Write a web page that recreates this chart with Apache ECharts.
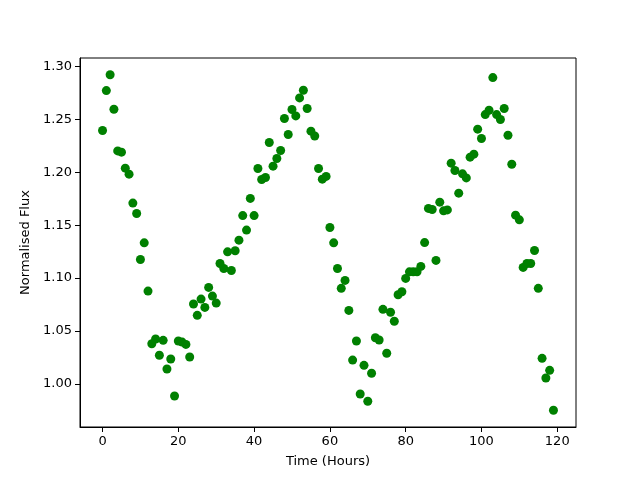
<!DOCTYPE html>
<html>
<head>
<meta charset="utf-8">
<script src="https://cdn.jsdelivr.net/npm/echarts@6/dist/echarts.min.js"></script>
<style>
  html, body { margin: 0; padding: 0; background: #fff; }
  #chart { width: 640px; height: 480px; }
</style>
</head>
<body>
<div id="chart"></div>
<script>
  // hours 0..119, one reading per hour
  const hours = Array.from({ length: 120 }, (_, i) => i);
  const flux = [
    1.2393, 1.2770, 1.2920, 1.2594, 1.2201, 1.2189, 1.2038, 1.1981, 1.1708, 1.1610,
    1.1176, 1.1333, 1.0877, 1.0380, 1.0425, 1.0271, 1.0412, 1.0142, 1.0236, 0.9887,
    1.0406, 1.0396, 1.0374, 1.0255, 1.0755, 1.0648, 1.0802, 1.0723, 1.0912, 1.0830,
    1.0764, 1.1138, 1.1091, 1.1248, 1.1072, 1.1258, 1.1358, 1.1590, 1.1453, 1.1752,
    1.1590, 1.2035, 1.1931, 1.1950, 1.2280, 1.2057, 1.2129, 1.2205, 1.2507, 1.2356,
    1.2592, 1.2531, 1.2701, 1.2774, 1.2601, 1.2387, 1.2342, 1.2035, 1.1934, 1.1960,
    1.1478, 1.1333, 1.1091, 1.0903, 1.0978, 1.0695, 1.0226, 1.0406, 0.9906, 1.0176,
    0.9837, 1.0101, 1.0437, 1.0415, 1.0705, 1.0290, 1.0677, 1.0592, 1.0843, 1.0871,
    1.0997, 1.1059, 1.1059, 1.1059, 1.1110, 1.1335, 1.1658, 1.1648, 1.1167, 1.1717,
    1.1635, 1.1644, 1.2085, 1.2016, 1.1802, 1.1984, 1.1946, 1.2142, 1.2170, 1.2406,
    1.2318, 1.2544, 1.2585, 1.2893, 1.2544, 1.2497, 1.2601, 1.2349, 1.2075, 1.1594,
    1.1550, 1.1101, 1.1138, 1.1138, 1.1261, 1.0903, 1.0242, 1.0057, 1.0129, 0.9752
  ];
  const xTicks = [0, 20, 40, 60, 80, 100, 120];
  const yTicks = [1.00, 1.05, 1.10, 1.15, 1.20, 1.25, 1.30];

  const chart = echarts.init(document.getElementById('chart'));
  const font = 'DejaVu Sans';
  const option = {
    animation: false,
    backgroundColor: '#fff',
    grid: {
      left: 80, right: 64, top: 58, bottom: 53,
      show: true, borderColor: '#000', borderWidth: 1, backgroundColor: 'transparent'
    },
    xAxis: {
      type: 'value',
      min: -5.95, max: 124.95,
      name: 'Time (Hours)',
      nameLocation: 'middle',
      nameGap: 28,
      nameTextStyle: { color: '#000', fontFamily: font, fontSize: 13 },
      splitLine: { show: false },
      axisLine: { show: true, onZero: false, lineStyle: { color: '#000', width: 1 } },
      axisTick: { show: true, length: 5, customValues: xTicks, lineStyle: { color: '#000' } },
      axisLabel: { customValues: xTicks, color: '#000', fontFamily: font, fontSize: 13, margin: 8 }
    },
    yAxis: {
      type: 'value',
      min: 0.9594, max: 1.3078,
      name: 'Normalised Flux',
      nameLocation: 'middle',
      nameGap: 47,
      nameTextStyle: { color: '#000', fontFamily: font, fontSize: 13 },
      splitLine: { show: false },
      axisLine: { show: true, onZero: false, lineStyle: { color: '#000', width: 1 } },
      axisTick: { show: true, length: 5, customValues: yTicks, lineStyle: { color: '#000' } },
      axisLabel: {
        customValues: yTicks, color: '#000', fontFamily: font, fontSize: 13, margin: 8,
        formatter: v => v.toFixed(2)
      }
    },
    series: [{
      type: 'scatter',
      data: hours.map((h, i) => [h, flux[i]]),
      symbol: 'circle',
      symbolSize: 9,
      itemStyle: { color: '#008000', opacity: 1 }
    }]
  };
  chart.setOption(option);
</script>
</body>
</html>
